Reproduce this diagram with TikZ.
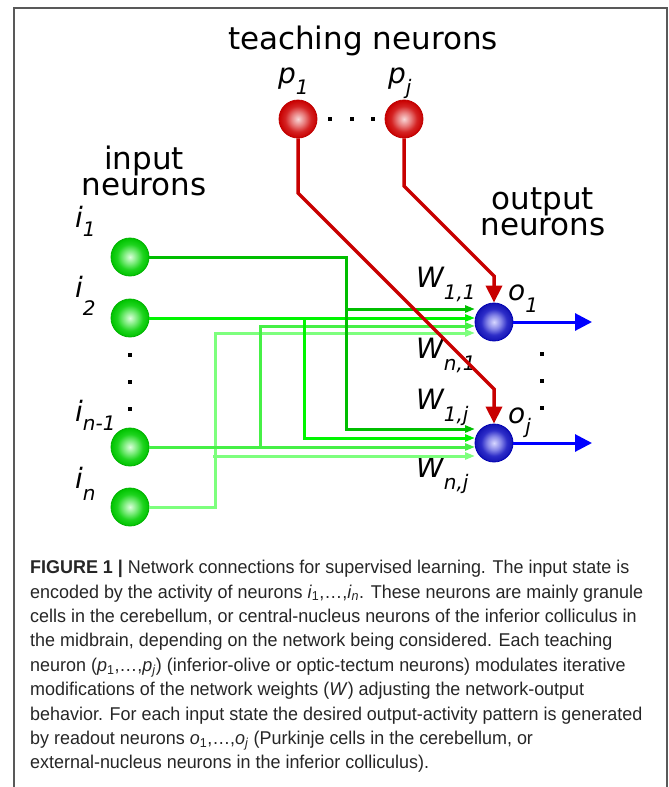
\documentclass[tikz,border=0pt]{standalone}
\usepackage{fontspec}
\setmainfont{DejaVu Sans}
\newfontfamily\capfont[FakeStretch=0.97]{Liberation Sans}
\usetikzlibrary{arrows.meta,calc}

\definecolor{wireA}{RGB}{0,190,0}
\definecolor{wireB}{RGB}{0,245,0}
\definecolor{wireC}{RGB}{70,240,70}
\definecolor{wireD}{RGB}{125,255,125}
\definecolor{teachred}{RGB}{200,0,0}
\definecolor{outblue}{RGB}{0,0,255}
\definecolor{gA}{RGB}{220,255,220}
\definecolor{gB}{RGB}{120,235,120}
\definecolor{gC}{RGB}{30,212,30}
\definecolor{gD}{RGB}{0,195,0}
\definecolor{rA}{RGB}{248,215,215}
\definecolor{rB}{RGB}{232,125,125}
\definecolor{rC}{RGB}{212,35,35}
\definecolor{rD}{RGB}{200,0,0}
\definecolor{bA}{RGB}{215,215,255}
\definecolor{bB}{RGB}{135,135,232}
\definecolor{bC}{RGB}{45,45,200}
\definecolor{bD}{RGB}{20,20,180}

\pgfdeclareradialshading{greenball}{\pgfpoint{0bp}{0bp}}{color(0bp)=(gA); color(9bp)=(gB); color(17bp)=(gC); color(25bp)=(gD); color(50bp)=(gD)}
\pgfdeclareradialshading{redball}{\pgfpoint{0bp}{0bp}}{color(0bp)=(rA); color(9bp)=(rB); color(17bp)=(rC); color(25bp)=(rD); color(50bp)=(rD)}
\pgfdeclareradialshading{blueball}{\pgfpoint{0bp}{0bp}}{color(0bp)=(bA); color(9bp)=(bB); color(17bp)=(bC); color(25bp)=(bD); color(50bp)=(bD)}

\newcommand{\nlab}[3]{\itshape #1\raisebox{-#3pt}{\fontsize{20}{20}\selectfont #2}}

\tikzset{
	neuron/.style={circle,minimum size=38pt,inner sep=0pt},
	inneuron/.style={neuron,shading=greenball,draw=green!70!black,line width=0.8pt},
	teachneuron/.style={neuron,shading=redball,draw=red!75!black,line width=0.8pt},
	outneuron/.style={neuron,shading=blueball,draw=blue!70!black,line width=0.8pt},
	head/.style={font=\fontsize{31}{26}\selectfont,inner sep=0pt,align=center},
	lab/.style={font=\fontsize{28}{28}\selectfont,inner sep=0pt,anchor=base west},
	wire/.style={line width=3pt,-{Triangle[length=10pt,width=7pt]}},
	teach/.style={teachred,line width=3.5pt,-{Triangle[length=17pt,width=16pt]}},
	readout/.style={outblue,line width=3pt,-{Triangle[length=17pt,width=17pt]}}
}

\begin{document}
\begin{tikzpicture}[x=1pt,y=-1pt]
			\useasboundingbox (0,0) rectangle (669,787);
			\draw[black!65,line width=1.5pt] (14,787) -- (14,8) -- (667,8) -- (667,787);
			
			\node[head,anchor=base] (teachlab)at(363,49) {teaching neurons};
			\node[head,anchor=base] (inlab)at(144,195) {input\\neurons};
			\node[head,anchor=base] (outlab)at(543,235) {output\\neurons};
			
			\node[inneuron] (i1)at(130,257) {};
			\node[inneuron] (i2)at(130,318) {};
			\node[inneuron] (iNm)at(130,447) {};
			\node[inneuron] (iN)at(130,507) {};
			\node[teachneuron] (p1)at(298,119) {};
			\node[teachneuron] (pj)at(404,119) {};
			\node[outneuron] (o1)at(494,322) {};
			\node[outneuron] (oj)at(494,443) {};
			
			\node[lab] (li1)at(75,227) {\nlab{i}{1}{9}};
			\node[lab] (li2)at(75,297) {\nlab{i}{2}{18}};
			\node[lab] (liNm)at(75,421) {\nlab{i}{n-1}{9}};
			\node[lab] (liN)at(75,488) {\nlab{i}{n}{12}};
			\node[lab] (lp1)at(278,83) {\nlab{p}{1}{11}};
			\node[lab] (lpj)at(388,83) {\nlab{p}{j}{11}};
			\node[lab] (lo1)at(508,300) {\nlab{o}{1}{12}};
			\node[lab] (loj)at(508,423) {\nlab{o}{j}{10}};
			\node[lab] (w11)at(416,287) {\nlab{W}{1,1}{12}};
			\node[lab] (wn1)at(416,358) {\nlab{W}{n,1}{12}};
			\node[lab] (w1j)at(416,409) {\nlab{W}{1,j}{12}};
			\node[lab] (wnj)at(416,477) {\nlab{W}{n,j}{12}};
			
			\coordinate (o1a)at(475,309);
			\coordinate (o1b)at(475,318);
			\coordinate (o1c)at(475,326);
			\coordinate (o1d)at(475,333);
			\coordinate (oja)at(475,429);
			\coordinate (ojb)at(475,438);
			\coordinate (ojc)at(475,447);
			\coordinate (ojd)at(475,456);
			\coordinate (b1)at(346,429);
			\coordinate (b2)at(304,438);
			\coordinate (b3)at(260,326);
			\coordinate (b4)at(215,333);
			
			\draw[wire,wireD] (iN) -| (b4) -- (o1d);
			\draw[wire,wireD] ($(b4 |- ojd)+(-2,0)$) -- (ojd);
			\draw[wire,wireC] (iNm) -- (ojc);
			\draw[wire,wireC] (b3 |- ojc) -- (b3) -- (o1c);
			\draw[wire,wireB] (i2) -- (o1b);
			\draw[wire,wireB] (b2 |- o1b) -- (b2) -- (ojb);
			\draw[wire,wireA] (i1) -| (b1) -- (oja);
			\draw[wire,wireA] (b1 |- o1a) -- (o1a);
			
			\coordinate (q1)at(298,193);
			\coordinate (q2)at(494,389);
			\coordinate (r1)at(404,186);
			\coordinate (r2)at(494,276);
			\draw[teach,line join=miter] (p1) -- (q1) -- (q2) -- (oj);
			\draw[teach,line join=miter] (pj) -- (r1) -- (r2) -- (o1);
			
			\coordinate (e1)at(592,322);
			\coordinate (ej)at(592,443);
			\draw[readout] (o1) -- (e1);
			\draw[readout] (oj) -- (ej);
			
			\fill (128,353) rectangle (132,357);
			\fill (128,380) rectangle (132,384);
			\fill (128,407) rectangle (132,411);
			\fill (540,352) rectangle (544,356);
			\fill (540,379) rectangle (544,383);
			\fill (540,406) rectangle (544,410);
			\fill (328,117) rectangle (332,121);
			\fill (350,117) rectangle (354,121);
			\fill (371,117) rectangle (375,121);
			
			\node[anchor=north west,inner sep=0pt,align=left,text=black!85,font=\capfont\fontsize{18.5}{24.4}\selectfont] (cap)at(30,560) {%
				\textbf{FIGURE 1 |} Network connections for supervised learning. The input state is\\
				encoded by the activity of neurons \textit{i}\textsubscript{1},…,\textit{i}\textsubscript{\textit{n}}. These neurons are mainly granule\\
				cells in the cerebellum, or central-nucleus neurons of the inferior colliculus in\\
				the midbrain, depending on the network being considered. Each teaching\\
				neuron (\textit{p}\textsubscript{1},…,\textit{p}\textsubscript{\textit{j}}) (inferior-olive or optic-tectum neurons) modulates iterative\\
				modifications of the network weights (\textit{W}) adjusting the network-output\\
				behavior. For each input state the desired output-activity pattern is generated\\
				by readout neurons \textit{o}\textsubscript{1},…,\textit{o}\textsubscript{\textit{j}} (Purkinje cells in the cerebellum, or\\
				external-nucleus neurons in the inferior colliculus).};
		\end{tikzpicture}
\end{document}
